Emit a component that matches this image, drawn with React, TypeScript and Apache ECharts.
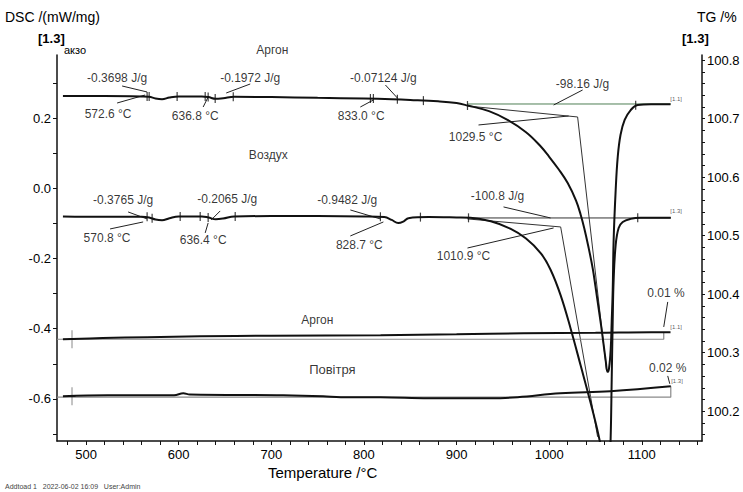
import React, { useEffect, useRef } from "react";
import * as echarts from "echarts";

// ---- axis ranges & ticks ----
const X_MIN = 468.6;
const X_MAX = 1165;
const DSC_MIN = -0.72;
const DSC_MAX = 0.38;
const TG_MIN = 100.149;
const TG_MAX = 100.809;
const xLabelValues = [500, 600, 700, 800, 900, 1000, 1100];
const xTickValues = [480, 500, 520, 540, 560, 580, 600, 620, 640, 660, 680, 700, 720, 740, 760, 780, 800, 820, 840, 860, 880, 900, 920, 940, 960, 980, 1000, 1020, 1040, 1060, 1080, 1100, 1120, 1140, 1160];
const dscLabelValues = [-0.6, -0.4, -0.2, 0.0, 0.2];
const dscTickValues = [-0.7, -0.6, -0.5, -0.4, -0.3, -0.2, -0.1, 0.0, 0.1, 0.2, 0.3];
const tgLabelValues = [100.2, 100.3, 100.4, 100.5, 100.6, 100.7, 100.8];
const tgTickValues = [100.16, 100.18, 100.2, 100.22, 100.24, 100.26, 100.28, 100.3, 100.32, 100.34, 100.36, 100.38, 100.4, 100.42, 100.44, 100.46, 100.48, 100.5, 100.52, 100.54, 100.56, 100.58, 100.6, 100.62, 100.64, 100.66, 100.68, 100.7, 100.72, 100.74, 100.76, 100.78, 100.8];

// ---- DSC, Argon ----
const argonDscT = [475, 520, 560, 568, 575, 582, 590, 600, 625, 632, 640, 648, 660, 700, 750, 800, 830, 850, 880, 900, 912, 935, 955, 975, 990, 1000, 1010, 1020, 1029, 1034, 1038, 1042, 1047, 1050, 1053, 1056, 1058, 1061, 1063, 1064.5, 1066.4, 1067.5, 1068.6, 1069.6, 1071.8, 1074, 1077, 1081.5, 1088, 1095.6, 1110, 1131];
const argonDscV = [0.263, 0.263, 0.262, 0.261, 0.256, 0.254, 0.259, 0.262, 0.262, 0.26, 0.255, 0.257, 0.261, 0.26, 0.258, 0.256, 0.254, 0.252, 0.248, 0.243, 0.236, 0.22, 0.195, 0.16, 0.122, 0.09, 0.055, 0.015, -0.035, -0.075, -0.115, -0.162, -0.228, -0.28, -0.335, -0.39, -0.43, -0.49, -0.523, -0.515, -0.46, -0.38, -0.29, -0.147, -0.005, 0.089, 0.152, 0.195, 0.223, 0.2375, 0.24, 0.24];

// ---- DSC, Air ----
const airDscT = [475, 520, 560, 568, 575, 582, 590, 600, 625, 632, 640, 648, 660, 700, 750, 800, 822, 830, 837, 843, 848, 870, 900, 915, 937, 958, 975, 991, 1001.5, 1012.4, 1023.2, 1034, 1044.8, 1053.4, 1058, 1062, 1065, 1066.4, 1067.5, 1068.6, 1069.6, 1071.8, 1075, 1079.4, 1088, 1098.8, 1131.3];
const airDscV = [-0.08, -0.081, -0.081, -0.083, -0.089, -0.091, -0.085, -0.08, -0.08, -0.083, -0.088, -0.086, -0.08, -0.079, -0.079, -0.08, -0.082, -0.09, -0.099, -0.094, -0.085, -0.082, -0.083, -0.084, -0.094, -0.115, -0.143, -0.185, -0.232, -0.305, -0.4, -0.505, -0.612, -0.705, -0.77, -0.85, -0.8, -0.708, -0.546, -0.375, -0.261, -0.161, -0.113, -0.096, -0.087, -0.084, -0.084];

// ---- TG ----
const argonTgT = [475, 518, 566, 623, 700, 818, 900, 972, 1050, 1110, 1131];
const argonTgV = [100.323, 100.325, 100.3265, 100.328, 100.329, 100.33, 100.3315, 100.3333, 100.334, 100.335, 100.335];
const airTgT = [475, 523, 595, 605, 612, 713, 756, 775, 818, 870, 937, 966, 1012, 1066, 1131.3];
const airTgV = [100.2256, 100.2273, 100.2273, 100.2305, 100.2285, 100.2273, 100.2256, 100.2239, 100.2239, 100.2222, 100.2222, 100.2239, 100.2307, 100.2342, 100.2427];

// ---- evaluation marks on DSC curves ----
const argonMarkT = [565.9, 568.1, 598.3, 628.6, 631.8, 639.4, 658.9, 807, 810.2, 836.1, 864.2, 911.8, 1093.4];
const argonMarkV = [0.262, 0.262, 0.262, 0.262, 0.26, 0.256, 0.261, 0.256, 0.256, 0.254, 0.25, 0.236, 0.237];
const airMarkT = [565.9, 571.3, 601.6, 623.2, 631.8, 661, 817.8, 861, 912.9, 1095.6];
const airMarkV = [-0.081, -0.085, -0.08, -0.08, -0.083, -0.08, -0.081, -0.082, -0.084, -0.084];

// ---- construction lines (DSC axis) ----
const argonBaseline = [[911.8, 0.2404], [1131.3, 0.2404]];
const argonTangent = [[911.8, 0.2347], [1030.7, 0.2034], [1062, -0.52]];
const airBaseline = [[911.8, -0.0844], [1131.3, -0.0844]];
const airTangent = [[911.8, -0.0872], [1012.4, -0.11], [1052.3, -0.708]];

// ---- TG reference lines ----
const argonTgRef = [[468.6, 100.323], [1123.7, 100.323], [1123.7, 100.335]];
const airTgRef = [[468.6, 100.2239], [1131.3, 100.2239], [1131.3, 100.2427]];
const tgStartT = [484.8, 484.8];
const tgStartV = [100.323, 100.2256];

// ---- annotation texts (DSC axis coordinates) ----
const annTexts = ["Аргон", "-0.3698 J/g", "-0.1972 J/g", "-0.07124 J/g", "-98.16 J/g", "572.6 °C", "636.8 °C", "833.0 °C", "1029.5 °C", "Воздух", "-0.3765 J/g", "-0.2065 J/g", "-0.9482 J/g", "-100.8 J/g", "570.8 °C", "636.4 °C", "828.7 °C", "1010.9 °C", "Аргон", "Повітря", "0.01 %", "0.02 %"];
const annT = [701, 533.5, 677.2, 821, 1036, 523.7, 617.8, 797, 920.5, 696.7, 540, 652.4, 782, 944.2, 522.6, 626.4, 795, 907.5, 749.7, 765.9, 1126, 1128];
const annV = [0.394, 0.3145, 0.3145, 0.3145, 0.297, 0.212, 0.206, 0.206, 0.146, 0.095, -0.033, -0.03, -0.033, -0.022, -0.141, -0.147, -0.161, -0.193, -0.375, -0.517, -0.298, -0.512];
const annSizes = [12, 12, 12, 12, 12, 12, 12, 12, 12, 12, 12, 12, 12, 12, 12, 12, 12, 12, 12, 13, 12, 12];

// ---- leader lines (DSC axis): [T1, v1, T2, v2] ----
const leaders = [
  [538.9, 0.2917, 565.9, 0.2746],
  [533.5, 0.2432, 563.7, 0.266],
  [677.2, 0.2974, 651.3, 0.2717],
  [626.4, 0.2318, 631.8, 0.2603],
  [823.2, 0.2945, 836.1, 0.2575],
  [796.1, 0.2318, 810.2, 0.2518],
  [1036.1, 0.2803, 1004.8, 0.2375],
  [923.7, 0.1806, 1021, 0.2062],
  [545.4, -0.0673, 565.9, -0.0872],
  [525.9, -0.1157, 561.6, -0.0958],
  [644.8, -0.0644, 635.1, -0.09],
  [628.6, -0.127, 631.8, -0.0986],
  [785.3, -0.0616, 817.8, -0.0872],
  [785.3, -0.1357, 821, -0.0958],
  [950.7, -0.053, 1001.5, -0.0844],
  [911.8, -0.17, 1004.8, -0.1129],
  [1128, -0.3237, 1123.7, -0.395],
  [1128, -0.5345, 1130.2, -0.557],
];

// ---- end tags ----
const endTagTexts = ["[1.1]", "[1.3]", "[1.1]", "[1.3]"];
const endTagT = [1137, 1137, 1137, 1138];
const endTagV = [0.2547, -0.0644, -0.395, -0.5488];

const FONT = "'Liberation Sans', Arial, Helvetica, sans-serif";
const INK = "#000";

export default function App() {
  const ref = useRef<HTMLDivElement>(null);

  useEffect(() => {
    if (!ref.current) return;
    const chart = echarts.init(ref.current, null, { renderer: "svg" });

    const zip = (t: number[], v: number[]) => t.map((x, i) => [x, v[i]]);

    const mainLine = (name: string, data: number[][], yAxisIndex: number) => ({
      name,
      type: "line",
      yAxisIndex,
      data,
      showSymbol: false,
      symbol: "none",
      smooth: 0.4,
      clip: true,
      lineStyle: { color: "#111", width: 2 },
      z: 5,
    });

    const thinLine = (data: number[][], yAxisIndex: number, color: string, width = 1) => ({
      type: "line",
      yAxisIndex,
      data,
      symbol: "none",
      showSymbol: false,
      clip: false,
      silent: true,
      lineStyle: { color, width },
      z: 3,
    });

    const series: any[] = [
      mainLine("DSC Аргон", zip(argonDscT, argonDscV), 0),
      mainLine("DSC Воздух", zip(airDscT, airDscV), 0),
      mainLine("TG Аргон", zip(argonTgT, argonTgV), 1),
      mainLine("TG Повітря", zip(airTgT, airTgV), 1),
      thinLine(argonBaseline, 0, "#4f7f55"),
      thinLine(argonTangent, 0, "#333"),
      thinLine(airBaseline, 0, "#333"),
      thinLine(airTangent, 0, "#333"),
      thinLine(argonTgRef, 1, "#8a8a8a", 1.2),
      thinLine(airTgRef, 1, "#8a8a8a", 1.2),
      ...leaders.map((l) => thinLine([[l[0], l[1]], [l[2], l[3]]], 0, "#222")),
      {
        type: "scatter",
        yAxisIndex: 0,
        data: [...zip(argonMarkT, argonMarkV), ...zip(airMarkT, airMarkV)],
        symbol: "rect",
        symbolSize: [1.2, 9],
        itemStyle: { color: "#111" },
        silent: true,
        z: 6,
      },
      {
        type: "scatter",
        yAxisIndex: 1,
        data: zip(tgStartT, tgStartV),
        symbol: "path://M4 0 L4 18 M0 9 L8 9",
        symbolSize: [7, 18],
        itemStyle: { color: "none", borderColor: "#111", borderWidth: 1 },
        silent: true,
        z: 6,
      },
      {
        type: "scatter",
        yAxisIndex: 0,
        clip: false,
        silent: true,
        symbolSize: 1,
        itemStyle: { color: "transparent" },
        data: annTexts.map((t, i) => ({
          value: [annT[i], annV[i]],
          name: t,
          label: { fontSize: annSizes[i] },
        })),
        label: {
          show: true,
          position: "inside",
          formatter: (p: any) => p.name,
          color: INK,
          textBorderWidth: 0,
          fontFamily: FONT,
          fontSize: 12,
        },
        z: 10,
      },
      {
        type: "scatter",
        yAxisIndex: 0,
        clip: false,
        silent: true,
        symbolSize: 1,
        itemStyle: { color: "transparent" },
        data: endTagTexts.map((t, i) => ({ value: [endTagT[i], endTagV[i]], name: t })),
        label: {
          show: true,
          position: "inside",
          formatter: (p: any) => p.name,
          color: "#333",
          textBorderWidth: 0,
          fontFamily: FONT,
          fontSize: 6,
        },
        z: 10,
      },
    ];

    const axisText = { color: INK, fontFamily: FONT, fontSize: 13 };

    const option: any = {
      animation: false,
      backgroundColor: "#fff",
      grid: { left: 57, right: 41, top: 55, bottom: 51, containLabel: false, outerBoundsMode: "none" },
      xAxis: {
        type: "value",
        min: X_MIN,
        max: X_MAX,
        axisLine: { show: true, onZero: false, lineStyle: { color: "#111", width: 1.5 } },
        axisTick: { show: true, customValues: xTickValues, length: 4, lineStyle: { color: "#111" } },
        axisLabel: { ...axisText, margin: 7, customValues: xLabelValues, formatter: (v: number) => String(Math.round(v)) },
        splitLine: { show: false },
      },
      yAxis: [
        {
          type: "value",
          position: "left",
          min: DSC_MIN,
          max: DSC_MAX,
          axisLine: { show: true, onZero: false, lineStyle: { color: "#111", width: 1.5 } },
          axisTick: { show: true, customValues: dscTickValues, length: 4, lineStyle: { color: "#111" } },
          axisLabel: { ...axisText, margin: 6, customValues: dscLabelValues, formatter: (v: number) => v.toFixed(1) },
          splitLine: { show: false },
        },
        {
          type: "value",
          position: "right",
          min: TG_MIN,
          max: TG_MAX,
          axisLine: { show: true, onZero: false, lineStyle: { color: "#111", width: 1.5 } },
          axisTick: { show: true, customValues: tgTickValues, length: 3, lineStyle: { color: "#111" } },
          axisLabel: { ...axisText, margin: 5, customValues: tgLabelValues, formatter: (v: number) => v.toFixed(1) },
          splitLine: { show: false },
        },
      ],
      graphic: [
        { type: "text", left: 5, top: 10, style: { text: "DSC /(mW/mg)", fontSize: 14, fontFamily: FONT, fill: INK } },
        { type: "text", left: 38, top: 32, style: { text: "[1.3]", fontSize: 13, fontWeight: "bold", fontFamily: FONT, fill: INK } },
        { type: "text", left: 64, top: 44, style: { text: "акзо", fontSize: 11, fontFamily: FONT, fill: INK } },
        { type: "text", left: 697, top: 10, style: { text: "TG /%", fontSize: 14, fontFamily: FONT, fill: INK } },
        { type: "text", left: 682, top: 32, style: { text: "[1.3]", fontSize: 13, fontWeight: "bold", fontFamily: FONT, fill: INK } },
        { type: "text", left: 268, top: 465, style: { text: "Temperature /°C", fontSize: 15, fontFamily: FONT, fill: INK } },
        { type: "text", left: 5, top: 483, style: { text: "Addtoad 1   2022-06-02 16:09   User:Admin", fontSize: 7, fontFamily: FONT, fill: "#444" } },
      ],
      series,
    };

    chart.setOption(option);
    return () => chart.dispose();
  }, []);

  return (
    <div
      ref={ref}
      style={{ position: "fixed", left: 0, top: 0, width: 743, height: 492, background: "#fff" }}
    />
  );
}
